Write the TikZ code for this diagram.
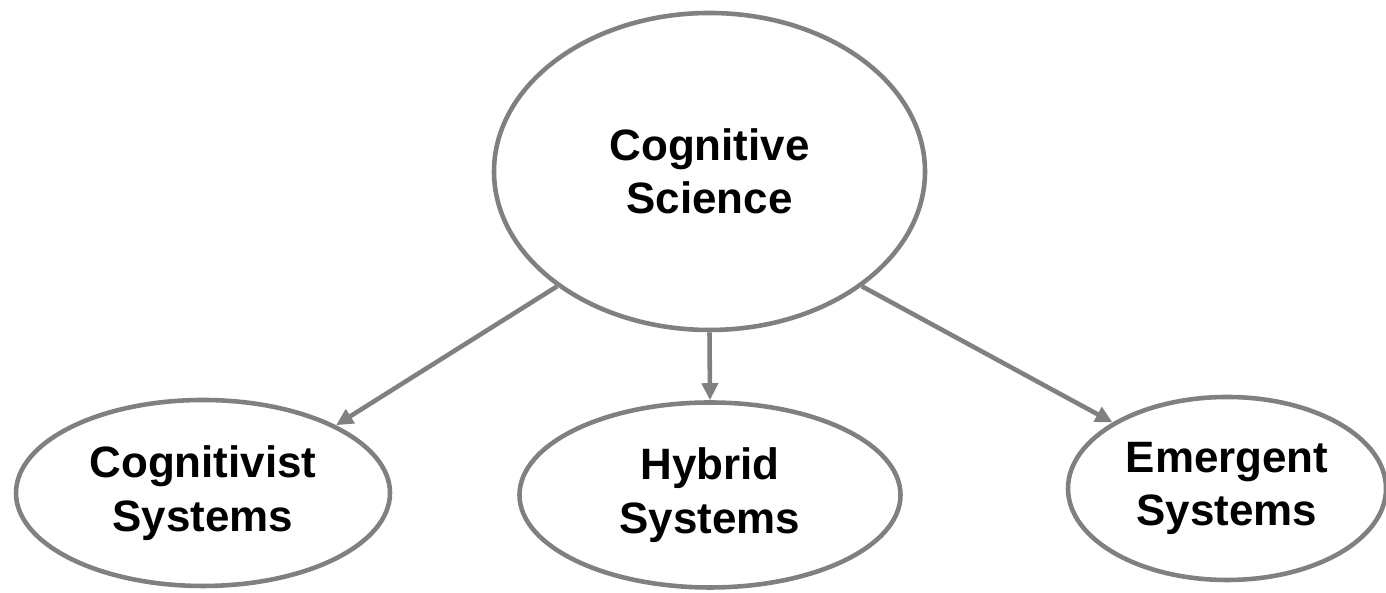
\documentclass[tikz,border=0pt]{standalone}
\usepackage{fontspec}
\setmainfont{Liberation Sans}
\usetikzlibrary{shapes.geometric,arrows.meta}
\definecolor{edgegray}{RGB}{128,128,128}
\tikzset{
    topic/.style = {ellipse, draw = edgegray, line width = 1.3pt, inner sep = 0pt, align = center, font = \bfseries\fontsize{12.5}{15.2}\selectfont},
    branch/.style = {draw = edgegray, line width = 1.3pt, -{Triangle[length = 0.17cm, width = 0.16cm]}}
}

\begin{document}
\begin{tikzpicture}
            \useasboundingbox (0,0) rectangle (13.86,5.93);
            \node[topic, minimum width = 4.31cm, minimum height = 3.17cm] (cs) at (7.095,4.215) {Cognitive\\Science};
            \node[topic, minimum width = 3.74cm, minimum height = 1.86cm] (cog) at (2.03,1.00) {Cognitivist\\Systems};
            \node[topic, minimum width = 3.81cm, minimum height = 1.85cm] (hyb) at (7.10,0.98) {Hybrid\\Systems};
            \node[topic, minimum width = 3.18cm, minimum height = 1.83cm] (emg) at (12.27,1.045) {Emergent\\Systems};
            \draw[branch] (cs.217) -- (cog.27);
            \draw[branch] (cs.south) -- (hyb.north);
            \draw[branch] (cs.323) -- (emg.150);
\end{tikzpicture}
\end{document}
